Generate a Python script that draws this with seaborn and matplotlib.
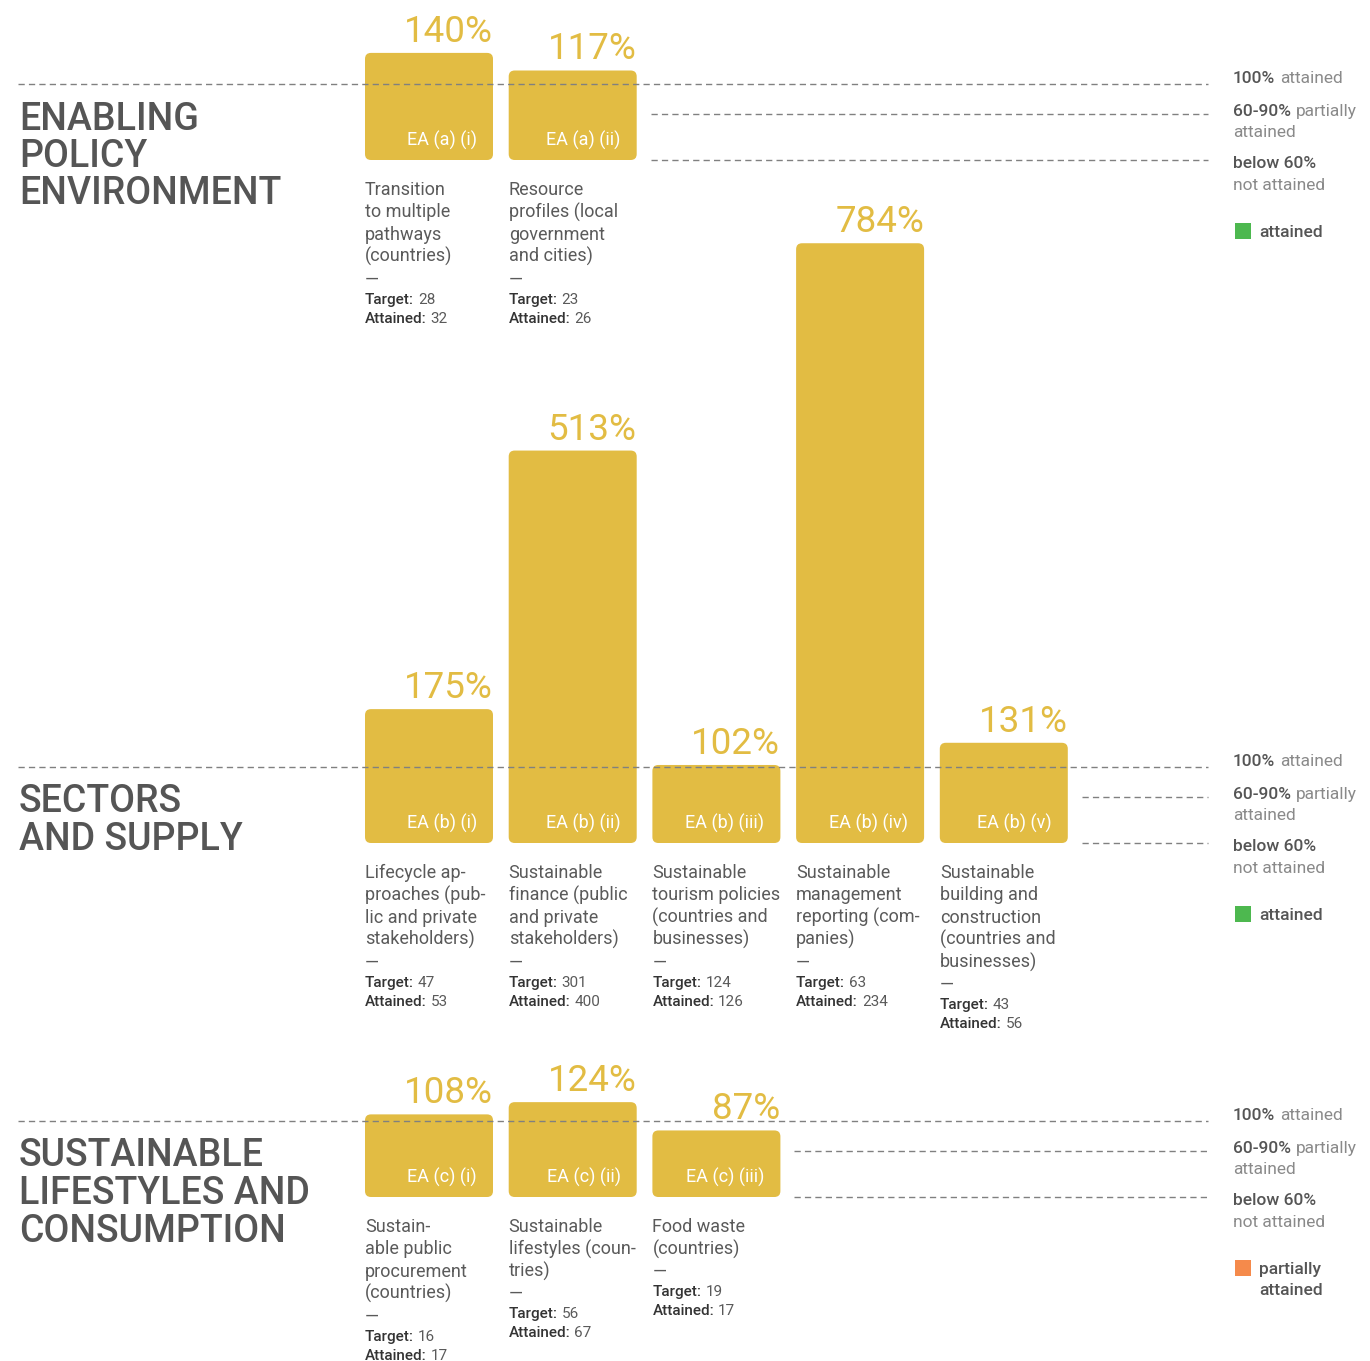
import matplotlib
matplotlib.use("Agg")
import matplotlib.pyplot as plt
import pandas as pd
import seaborn as sns
from matplotlib.patches import FancyBboxPatch, Rectangle

sns.set_theme(style="white")
plt.rcParams["font.family"] = ["Roboto", "DejaVu Sans"]

# ---------------------------------------------------------------- data
policy_codes = ["EA (a) (i)", "EA (a) (ii)"]
policy_pct = [140, 117]
policy_target = [28, 23]
policy_attained = [32, 26]
policy_desc = [
    ["Transition", "to multiple", "pathways", "(countries)"],
    ["Resource", "profiles (local", "government", "and cities)"],
]

sector_codes = ["EA (b) (i)", "EA (b) (ii)", "EA (b) (iii)", "EA (b) (iv)", "EA (b) (v)"]
sector_pct = [175, 513, 102, 784, 131]
sector_target = [47, 301, 124, 63, 43]
sector_attained = [53, 400, 126, 234, 56]
sector_desc = [
    ["Lifecycle ap-", "proaches (pub-", "lic and private", "stakeholders)"],
    ["Sustainable", "finance (public", "and private", "stakeholders)"],
    ["Sustainable", "tourism policies", "(countries and", "businesses)"],
    ["Sustainable", "management", "reporting (com-", "panies)"],
    ["Sustainable", "building and", "construction", "(countries and", "businesses)"],
]

lifestyle_codes = ["EA (c) (i)", "EA (c) (ii)", "EA (c) (iii)"]
lifestyle_pct = [108, 124, 87]
lifestyle_target = [16, 56, 19]
lifestyle_attained = [17, 67, 17]
lifestyle_desc = [
    ["Sustain-", "able public", "procurement", "(countries)"],
    ["Sustainable", "lifestyles (coun-", "tries)"],
    ["Food waste", "(countries)"],
]

titles = [
    ["ENABLING", "POLICY", "ENVIRONMENT"],
    ["SECTORS", "AND SUPPLY"],
    ["SUSTAINABLE", "LIFESTYLES AND", "CONSUMPTION"],
]
status_labels = [["attained"], ["attained"], ["partially", "attained"]]

# ---------------------------------------------------------------- style
GOLD = "#E2BC43"
GREEN = "#4DB84F"
ORANGE = "#F58A4B"
TITLE_C = "#555555"
DESC_C = "#5a5a5a"
DARK_C = "#333333"
LIGHT_C = "#8a8a8a"
LINE_C = "#808080"
DASH = (0, (4.5, 3))

W, H, DPI = 1370, 1361, 100
PX_PER_PCT = 0.765          # vertical pixels per percentage point
COL_PX = 143.7              # column pitch in pixels
FIRST_COL_PX = 429          # centre of the first column
LEFT_PX, RIGHT_PX = 18, 1208
BAR_W = 128 / COL_PX
XLIM = ((LEFT_PX - FIRST_COL_PX) / COL_PX, (RIGHT_PX - FIRST_COL_PX) / COL_PX)
RADIUS_PX = 6

sections = [
    dict(codes=policy_codes, pct=policy_pct, target=policy_target,
         attained=policy_attained, desc=policy_desc, base=160, ymax=160,
         status=GREEN),
    dict(codes=sector_codes, pct=sector_pct, target=sector_target,
         attained=sector_attained, desc=sector_desc, base=843, ymax=800,
         status=GREEN),
    dict(codes=lifestyle_codes, pct=lifestyle_pct, target=lifestyle_target,
         attained=lifestyle_attained, desc=lifestyle_desc, base=1197, ymax=140,
         status=ORANGE),
]

fig = plt.figure(figsize=(W / DPI, H / DPI), dpi=DPI)
fig.patch.set_facecolor("white")


def fig_xy(px, py):
    return px / W, 1 - py / H


def label_pair(ax, bold, light, xy, xycoords, fontsize, bold_c, light_c, gap=5):
    """Bold lead-in followed by lighter text on the same baseline."""
    t1 = ax.annotate(bold, xy=xy, xycoords=xycoords, ha="left", va="baseline",
                     fontsize=fontsize, fontweight="medium", color=bold_c,
                     annotation_clip=False)
    if light:
        ax.annotate(light, xy=(1, 0), xycoords=t1, xytext=(gap, 0),
                    textcoords="offset pixels", ha="left", va="bottom",
                    fontsize=fontsize, fontweight="normal", color=light_c,
                    annotation_clip=False)
    return t1


for s_idx, sec in enumerate(sections):
    base = sec["base"]
    ax_h = sec["ymax"] * PX_PER_PCT
    ax = fig.add_axes([LEFT_PX / W, 1 - base / H, (RIGHT_PX - LEFT_PX) / W, ax_h / H])
    ax.set_facecolor("none")

    df = pd.DataFrame({"code": sec["codes"], "pct": sec["pct"]})
    sns.barplot(data=df, x="code", y="pct", order=sec["codes"], ax=ax,
                color=GOLD, saturation=1, width=BAR_W, errorbar=None)

    # swap the square bars for rounded ones of the same extent
    aspect = COL_PX / PX_PER_PCT
    for bar in list(ax.patches):
        x, y = bar.get_x(), bar.get_y()
        w, h = bar.get_width(), bar.get_height()
        bar.set_visible(False)
        ax.add_patch(FancyBboxPatch(
            (x, y), w, h,
            boxstyle=f"round,pad=0,rounding_size={RADIUS_PX / COL_PX}",
            mutation_aspect=aspect, fc=GOLD, ec="none", zorder=2))

    ax.set_xlim(*XLIM)
    ax.set_ylim(0, sec["ymax"])
    ax.axis("off")

    n = len(sec["codes"])
    # reference lines
    ax.axhline(100, color=LINE_C, lw=1, ls=DASH, zorder=3, clip_on=False)
    x_start = (n - 1) + BAR_W / 2 + 14 / COL_PX
    ax.hlines([60, 0], x_start, XLIM[1], color=LINE_C, lw=1, linestyles=[DASH],
              zorder=3, clip_on=False)

    for i, (code, p, tg, at, desc) in enumerate(zip(sec["codes"], sec["pct"],
                                                    sec["target"], sec["attained"],
                                                    sec["desc"])):
        right = i + BAR_W / 2
        left = i - BAR_W / 2
        ax.annotate(f"{p}%", xy=(right, p), xytext=(0, 11),
                    textcoords="offset pixels", ha="right", va="baseline",
                    fontsize=26.5, color=GOLD, annotation_clip=False)
        ax.annotate(code, xy=(right, 0), xytext=(-16, 14),
                    textcoords="offset pixels", ha="right", va="baseline",
                    fontsize=13, color="white", zorder=4, annotation_clip=False)
        for k, line in enumerate(desc):
            ax.annotate(line, xy=(left, 0), xytext=(0, -(35 + 22.4 * k)),
                        textcoords="offset pixels", ha="left", va="baseline",
                        fontsize=13, fontweight="normal", color=DESC_C,
                        annotation_clip=False)
        dash_off = 35 + 22.4 * len(desc)
        ax.annotate("\u2014", xy=(left, 0), xytext=(0, -dash_off),
                    textcoords="offset pixels", ha="left", va="baseline",
                    fontsize=13, fontweight="normal", color=DESC_C,
                    annotation_clip=False)
        for j, (lab, val) in enumerate([("Target:", tg), ("Attained:", at)]):
            anchor = ax.annotate("", xy=(left, 0), xytext=(0, -(dash_off + 19 + 19 * j)),
                                 textcoords="offset pixels", annotation_clip=False)
            label_pair(ax, lab, str(val), (0, 0), anchor, 11, DARK_C, DESC_C, gap=4)

    # section title
    line100 = base - 100 * PX_PER_PCT
    for k, line in enumerate(titles[s_idx]):
        fig.text(*fig_xy(19, line100 + 46 + 37.5 * k), line, ha="left",
                 va="baseline", fontsize=27, fontweight="medium", color=TITLE_C)

    # legend
    lx = 1233
    for bold, light, dy in [("100%", "attained", -77), ("60-90%", "partially", -44),
                            ("below 60%", None, 8)]:
        label_pair(ax, bold, light, fig_xy(lx, base + dy), "figure fraction",
                   12.5, TITLE_C, LIGHT_C)
    for text, dy in [("attained", -23), ("not attained", 30)]:
        fig.text(*fig_xy(lx, base + dy), text, ha="left", va="baseline",
                 fontsize=12.5, fontweight="normal", color=LIGHT_C)
    sq_x, sq_y = fig_xy(1235, base + 79)
    fig.patches.append(Rectangle((sq_x, sq_y), 16 / W, 16 / H,
                                 transform=fig.transFigure, fc=sec["status"],
                                 ec="none"))
    for k, text in enumerate(status_labels[s_idx]):
        fig.text(*fig_xy(1259, base + 77 + 21 * k), text, ha="left", va="baseline",
                 fontsize=12.5, fontweight="medium", color=TITLE_C)

fig.savefig("out.png", dpi=DPI, facecolor="white")
